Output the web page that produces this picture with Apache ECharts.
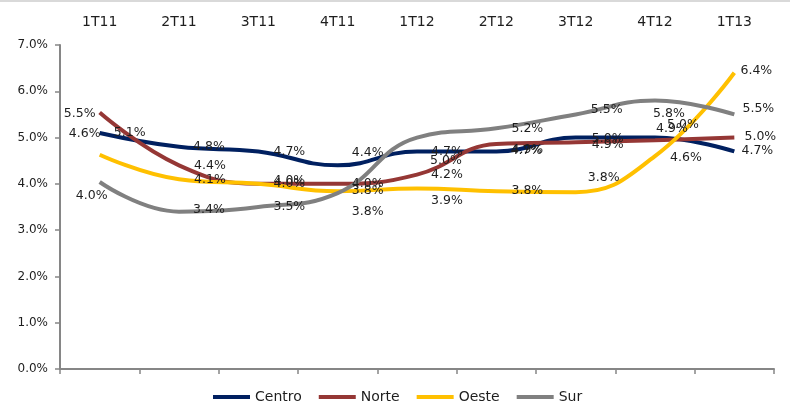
<!DOCTYPE html>
<html>
<head>
<meta charset="utf-8">
<script src="https://cdn.jsdelivr.net/npm/echarts@6/dist/echarts.min.js"></script>
<style>
  html, body { margin: 0; padding: 0; background: #fff; }
  #chart { width: 790px; height: 405px; }
</style>
</head>
<body>
<div id="chart"></div>
<script>
// Quarterly rates by region
const categories = ['1T11', '2T11', '3T11', '4T11', '1T12', '2T12', '3T12', '4T12', '1T13'];
const centro = [5.1, 4.8, 4.7, 4.4, 4.7, 4.7, 5.0, 5.0, 4.7];
const norte  = [5.54, 4.4, 4.0, 4.0, 4.2, 4.86, 4.9, 4.94, 5.0];
const oeste  = [4.63, 4.1, 4.0, 3.84, 3.9, 3.84, 3.82, 4.6, 6.4];
const sur    = [4.04, 3.4, 3.5, 3.8, 5.0, 5.2, 5.5, 5.8, 5.5];

// Label centre offsets (px) from each point, per series
const centroLabelOffsets = [[30,0],[30,0],[31,0],[30,-13],[30,0],[30,-1],[32,1],[28,-13],[23,-1]];
const norteLabelOffsets  = [[-20,1],[31,0],[31,-3],[30,0],[30,0],[31,6],[32,3],[17,-12],[26,-1]];
const oesteLabelOffsets  = [[-15,-21],[31,1],[31,0],[30,-1],[30,12],[31,-1],[28,-14],[31,2],[22,-2]];
const surLabelOffsets    = [[-8,14],[30,-2],[31,0],[30,19],[29,23],[31,0],[31,-5],[14,13],[24,-6]];

const seriesColors = { Centro: '#002060', Norte: '#953735', Oeste: '#FFC000', Sur: '#808080' };

const FONT = 'DejaVu Sans';
const TEXT = '#1e1e1e';
const AXIS = '#868686';
const SYMBOL_SIZE = 2;

function withLabels(values, offsets) {
  // label position is relative to the top-left of the (tiny) symbol box
  return values.map((v, i) => ({
    value: v,
    label: { position: [offsets[i][0] + SYMBOL_SIZE / 2, offsets[i][1] + SYMBOL_SIZE / 2] }
  }));
}

function lineSeries(name, values, offsets) {
  const color = seriesColors[name];
  return {
    name: name,
    type: 'line',
    data: withLabels(values, offsets),
    smooth: 0.45,
    symbol: 'rect',
    symbolSize: SYMBOL_SIZE,
    showSymbol: true,
    itemStyle: { color: 'rgba(0,0,0,0)', borderWidth: 0 },
    lineStyle: { color: color, width: 4 },
    label: {
      show: true,
      align: 'center',
      verticalAlign: 'middle',
      fontFamily: FONT,
      fontSize: 12.5,
      color: TEXT,
      formatter: p => p.value.toFixed(1) + '%'
    },
    labelLayout: { hideOverlap: false },
    emphasis: { disabled: true },
    animation: false
  };
}

const chart = echarts.init(document.getElementById('chart'), null, { renderer: 'canvas' });

chart.setOption({
  backgroundColor: '#ffffff',
  animation: false,
  textStyle: { fontFamily: FONT },
  grid: { left: 60, right: 16, top: 45, bottom: 36, containLabel: false },
  legend: {
    left: 213,
    top: 390,
    padding: 0,
    icon: 'rect',
    itemWidth: 37,
    itemHeight: 4,
    itemGap: 17,
    textStyle: { fontFamily: FONT, fontSize: 14, color: TEXT },
    data: Object.keys(seriesColors).map(n => ({ name: n, itemStyle: { color: seriesColors[n] } }))
  },
  xAxis: [
    {
      type: 'category',
      data: categories,
      position: 'bottom',
      boundaryGap: true,
      axisLine: { lineStyle: { color: AXIS, width: 2 } },
      axisTick: { show: true, length: 5, inside: false, lineStyle: { color: AXIS, width: 1.5 } },
      axisLabel: { show: false }
    },
    {
      type: 'category',
      data: categories,
      position: 'top',
      boundaryGap: true,
      axisLine: { show: false },
      axisTick: { show: false },
      axisLabel: { show: true, margin: 16, fontFamily: FONT, fontSize: 14, color: TEXT }
    }
  ],
  yAxis: {
    type: 'value',
    min: 0,
    max: 7,
    interval: 1,
    axisLine: { show: true, lineStyle: { color: AXIS, width: 2 } },
    axisTick: { show: true, length: 5, lineStyle: { color: AXIS, width: 1.5 } },
    splitLine: { show: false },
    axisLabel: {
      margin: 12,
      fontFamily: FONT,
      fontSize: 12,
      color: TEXT,
      formatter: v => v.toFixed(1) + '%'
    }
  },
  graphic: [
    { type: 'rect', left: 0, top: 0, shape: { width: 790, height: 2 }, style: { fill: '#d9d9d9' }, silent: true }
  ],
  series: [
    lineSeries('Centro', centro, centroLabelOffsets),
    lineSeries('Norte', norte, norteLabelOffsets),
    lineSeries('Oeste', oeste, oesteLabelOffsets),
    lineSeries('Sur', sur, surLabelOffsets)
  ]
});
</script>
</body>
</html>
